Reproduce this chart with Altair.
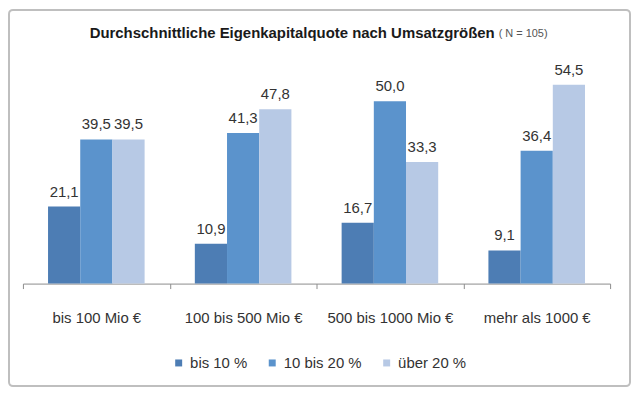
import altair as alt
import pandas as pd

categories = ["bis 100 Mio €", "100 bis 500 Mio €", "500 bis 1000 Mio €", "mehr als 1000 €"]
series = ["bis 10 %", "10 bis 20 %", "über 20 %"]
bis10 = [21.1, 10.9, 16.7, 9.1]
b10_20 = [39.5, 41.3, 50.0, 36.4]
ueber20 = [39.5, 47.8, 33.3, 54.5]
colors = ["#4d7db4", "#5b93cc", "#b7c9e5"]
title_main = "Durchschnittliche Eigenkapitalquote nach Umsatzgrößen"
title_small = "( N = 105)"

rows = []
for s, vals in zip(series, [bis10, b10_20, ueber20]):
    for c, v in zip(categories, vals):
        rows.append({"cat": c, "series": s, "value": v,
                     "label": f"{v:.1f}".replace(".", ",")})
df = pd.DataFrame(rows)

x_enc = alt.X("cat:N", sort=categories,
              scale=alt.Scale(paddingInner=0, paddingOuter=0),
              axis=alt.Axis(title=None, labelAngle=0, tickBand="extent",
                            labelFontSize=15, labelColor="#333333",
                            domainColor="#8c8c8c", tickColor="#8c8c8c",
                            tickSize=5, labelPadding=22, grid=False))
xo_enc = alt.XOffset("series:N", sort=series,
                     scale=alt.Scale(paddingOuter=0.78, paddingInner=0))
y_enc = alt.Y("value:Q", scale=alt.Scale(domain=[0, 60]), axis=None)

base = alt.Chart(df)

bars = base.mark_bar().encode(
    x=x_enc, xOffset=xo_enc, y=y_enc,
    color=alt.Color("series:N", sort=series,
                    scale=alt.Scale(domain=series, range=colors),
                    legend=alt.Legend(orient="none", legendX=149, legendY=292,
                                      direction="horizontal", title=None,
                                      symbolType="square", symbolSize=49,
                                      symbolStrokeWidth=0, labelFontSize=15,
                                      labelColor="#333333", columnPadding=17,
                                      labelOffset=4, padding=0)),
)

labels = base.mark_text(baseline="alphabetic", dy=-10, fontSize=15,
                        color="#333333").encode(
    x=x_enc, xOffset=xo_enc, y=y_enc, text="label:N")

one = pd.DataFrame({"t1": [title_main], "t2": [title_small]})
t1 = alt.Chart(one).mark_text(align="right", baseline="middle", fontSize=15,
                              fontWeight="bold", color="#1a1a1a").encode(
    x=alt.value(474), y=alt.value(-32), text="t1:N")
t2 = alt.Chart(one).mark_text(align="left", baseline="middle", fontSize=11,
                              color="#555555").encode(
    x=alt.value(478), y=alt.value(-31), text="t2:N")

border = alt.Chart(one).mark_rect(fillOpacity=0, stroke="#bfbfbf",
                                  strokeWidth=2, cornerRadius=4).encode(
    x=alt.value(-14), x2=alt.value(610), y=alt.value(-55), y2=alt.value(323))

chart = alt.layer(border, bars, labels, t1, t2).properties(
    width=590, height=220,
    autosize=alt.AutoSizeParams(type="none"),
    padding={"left": 15, "top": 56, "right": 22, "bottom": 104},
).configure(font="Liberation Sans").configure_view(stroke=None)

chart.save("out.html", embed_options={"renderer": "svg", "actions": False})
